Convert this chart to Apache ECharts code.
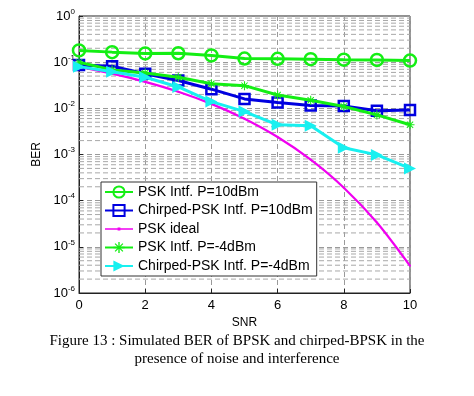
<!DOCTYPE html>
<html>
<head>
<meta charset="utf-8">
<script src="https://cdn.jsdelivr.net/npm/echarts@6/dist/echarts.min.js"></script>
<style>html,body{margin:0;padding:0;background:#fff}#c{width:474px;height:396px}</style>
</head>
<body>
<div id="c"></div>
<script>
var snr = [0, 1, 2, 3, 4, 5, 6, 7, 8, 9, 10];
var pskIntf10 = [0.18, 0.165, 0.155, 0.156, 0.14, 0.12, 0.118, 0.116, 0.113, 0.112, 0.108];
var chirpIntf10 = [0.087, 0.082, 0.056, 0.04, 0.026, 0.016, 0.0133, 0.0115, 0.0112, 0.0089, 0.0092];
var pskIdeal = [0.0786, 0.0563, 0.0375, 0.0229, 0.0125, 0.00595, 0.00239, 0.000773, 0.000191, 0.0000336, 0.00000387];
var pskIntfM4 = [0.10, 0.068, 0.058, 0.047, 0.034, 0.031, 0.0195, 0.015, 0.011, 0.0072, 0.0044];
var chirpIntfM4 = [0.08, 0.062, 0.047, 0.029, 0.014, 0.0085, 0.0044, 0.0042, 0.0014, 0.00098, 0.0005];
var seriesNames = ['PSK Intf. P=10dBm', 'Chirped-PSK Intf. P=10dBm', 'PSK ideal', 'PSK Intf. P=-4dBm', 'Chirped-PSK Intf. P=-4dBm'];
var xRange = [0, 10];
var minorMantissas = [2, 3, 4, 5, 6, 7, 8, 9];
var decades = [1e-6, 1e-5, 1e-4, 1e-3, 1e-2, 1e-1];
var captionLines = ['Figure 13 : Simulated BER of BPSK and chirped-BPSK in the', 'presence of noise and interference'];

function pairs(ys) { return snr.map(function (x, i) { return [x, ys[i]]; }); }

var GREEN = '#14ee14', BLUE = '#0000e0', MAG = '#f000f0', CYAN = '#18f0f0';
var starPath = 'path://M-0.6,-5L0.6,-5L0.6,5L-0.6,5Z M-5,-0.6L5,-0.6L5,0.6L-5,0.6Z M-3.9,-3.1L-3.1,-3.9L3.9,3.1L3.1,3.9Z M3.1,-3.9L3.9,-3.1L-3.1,3.9L-3.9,3.1Z';
var triPath = 'path://M0,0L10,5L0,10Z';
var magIcon = 'path://M0,6.2L28,6.2L28,7.8L0,7.8Z M12.6,5.5L15.4,5.5L15.4,8.5L12.6,8.5Z';
var FONT = 'Liberation Sans';

var minorSeries = [];
decades.forEach(function (d) {
  minorMantissas.forEach(function (m) {
    minorSeries.push({
      type: 'line', silent: true, z: 1, symbol: 'none',
      data: [[xRange[0], m * d], [xRange[1], m * d]],
      lineStyle: { color: '#a8a8a8', type: [5, 3], width: 1 }
    });
  });
});

var mainSeries = [
  {
    name: seriesNames[0], type: 'line', data: pairs(pskIntf10), z: 3,
    symbol: 'circle', symbolSize: 12, showAllSymbol: true,
    lineStyle: { color: GREEN, width: 3 },
    itemStyle: { color: 'rgba(255,255,255,0)', borderColor: GREEN, borderWidth: 2.5 }
  },
  {
    name: seriesNames[1], type: 'line', data: pairs(chirpIntf10), z: 4,
    symbol: 'rect', symbolSize: 10, showAllSymbol: true,
    lineStyle: { color: BLUE, width: 3 },
    itemStyle: { color: 'rgba(255,255,255,0)', borderColor: BLUE, borderWidth: 2.5 }
  },
  {
    name: seriesNames[2], type: 'line', data: pairs(pskIdeal), z: 2, smooth: 0.3,
    symbol: 'circle', symbolSize: 2, showSymbol: true,
    lineStyle: { color: MAG, width: 2.2 },
    itemStyle: { color: MAG, borderWidth: 0 }
  },
  {
    name: seriesNames[3], type: 'line', data: pairs(pskIntfM4), z: 5,
    symbol: starPath, symbolSize: 9, showAllSymbol: true,
    lineStyle: { color: GREEN, width: 3 },
    itemStyle: { color: GREEN, borderWidth: 0 }
  },
  {
    name: seriesNames[4], type: 'line', data: pairs(chirpIntfM4), z: 6,
    symbol: triPath, symbolSize: 12, showAllSymbol: true,
    lineStyle: { color: CYAN, width: 3 },
    itemStyle: { color: CYAN, borderWidth: 0 }
  }
];

var chart = echarts.init(document.getElementById('c'), null, { renderer: 'canvas' });
chart.setOption({
  animation: false,
  backgroundColor: '#fff',
  textStyle: { fontFamily: FONT },
  grid: { left: 79, top: 16, width: 331, height: 277, show: true, borderColor: '#222', borderWidth: 1, backgroundColor: 'transparent' },
  legend: {
    orient: 'vertical', left: 101, top: 182,
    data: [seriesNames[0], seriesNames[1], { name: seriesNames[2], icon: magIcon }, seriesNames[3], seriesNames[4]],
    itemWidth: 28, itemHeight: 14, itemGap: 4.5,
    padding: [3, 4, 3, 3],
    backgroundColor: '#fff', borderColor: '#333', borderWidth: 1,
    textStyle: { fontSize: 14, color: '#000', fontFamily: FONT }
  },
  xAxis: {
    type: 'value', min: xRange[0], max: xRange[1], interval: 2,
    name: 'SNR', nameLocation: 'middle', nameGap: 18,
    nameTextStyle: { fontSize: 12, color: '#000', fontFamily: FONT },
    axisLine: { show: true, lineStyle: { color: '#222' } },
    axisTick: { show: true, inside: true, length: 4, lineStyle: { color: '#222' } },
    axisLabel: { fontSize: 13, color: '#000', margin: 6, fontFamily: FONT },
    splitLine: { show: true, lineStyle: { color: '#9a9a9a', type: [5, 3], width: 1 } }
  },
  yAxis: {
    type: 'log', logBase: 10, min: 1e-6, max: 1,
    name: 'BER', nameLocation: 'middle', nameGap: 34, nameRotate: 90,
    nameTextStyle: { fontSize: 12, color: '#000', fontFamily: FONT },
    axisLine: { show: true, lineStyle: { color: '#222' } },
    axisTick: { show: true, inside: true, length: 4, lineStyle: { color: '#222' } },
    axisLabel: {
      margin: 4, color: '#000',
      formatter: function (v) {
        var e = Math.round(Math.log10(v));
        return '{b|10}{s|' + e + '}';
      },
      rich: {
        b: { fontSize: 13, color: '#000', fontFamily: FONT },
        s: { fontSize: 8, color: '#000', fontFamily: FONT, padding: [0, 0, 9, 0] }
      }
    },
    splitLine: { show: true, lineStyle: { color: '#9a9a9a', type: [5, 3], width: 1 } }
  },
  graphic: [
    { type: 'text', left: 'center', top: 334, style: { text: captionLines[0], font: '15px "Liberation Serif"', fill: '#000' } },
    { type: 'text', left: 'center', top: 352, style: { text: captionLines[1], font: '15px "Liberation Serif"', fill: '#000' } }
  ],
  series: minorSeries.concat(mainSeries)
});
</script>
</body>
</html>
